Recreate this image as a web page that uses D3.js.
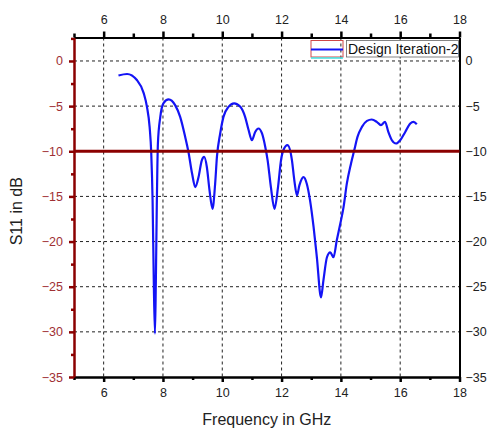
<!DOCTYPE html>
<html>
<head>
<meta charset="utf-8">
<script src="https://cdn.jsdelivr.net/npm/d3@7"></script>
<style>
    body { margin: 0; background: #fff; }
    svg text { font-family: Arial, "Liberation Sans", sans-serif; }
</style>
</head>
<body>
<div id="chart"></div>
<script>
// values
const freq = [6.50, 6.79, 7.12, 7.35, 7.46, 7.55, 7.605, 7.65, 7.69, 7.73, 7.76, 7.79, 7.81, 7.83,
    7.91, 8.02, 8.19, 8.41, 8.58, 8.75, 8.86, 8.98, 9.09, 9.20, 9.31, 9.39, 9.48, 9.57, 9.67,
    9.76, 9.82, 9.93, 10.04, 10.21, 10.40, 10.61, 10.77, 10.89, 11.00, 11.11, 11.22, 11.34,
    11.45, 11.53, 11.64, 11.76, 11.88, 11.98, 12.06, 12.20, 12.35, 12.43, 12.52, 12.60, 12.74,
    12.85, 12.96, 13.08, 13.19, 13.33, 13.41, 13.53, 13.64, 13.75, 13.86, 13.98, 14.09, 14.20,
    14.34, 14.45, 14.56, 14.71, 14.88, 15.04, 15.21, 15.35, 15.49, 15.60, 15.72, 15.86, 16.00,
    16.17, 16.34, 16.45, 16.56];
const s11 = [-1.61, -1.44, -2.11, -3.56, -5.08, -7.30, -10.22, -15.4, -24.3, -30.2, -24.5, -16.5, -12.0, -9.11,
    -6.19, -4.67, -4.26, -4.89, -6.19, -8.41, -10.08, -12.44, -13.97, -12.86, -11.0, -10.63, -11.74, -14.33, -16.37,
    -13.59, -10.63, -8.03, -6.19, -5.08, -4.70, -5.08, -6.19, -7.67, -8.78, -7.86, -7.48, -8.03,
    -9.52, -11.0, -13.97, -16.37, -13.97, -11.0, -9.89, -9.33, -11.0, -13.22, -14.89, -13.78, -12.86,
    -13.59, -15.44, -18.41, -21.74, -26.19, -24.33, -21.74, -21.19, -21.74, -19.89, -18.03, -16.19, -13.59,
    -11.37, -9.89, -8.41, -7.30, -6.63, -6.48, -6.74, -7.11, -6.74, -7.86, -8.78, -9.14, -8.78,
    -7.86, -6.92, -6.74, -7.0];

const xTicks = [6, 8, 10, 12, 14, 16, 18];
const xMinor = [5, 7, 9, 11, 13, 15, 17];
const yTicks = [0, -5, -10, -15, -20, -25, -30, -35];
const yMinor = [2.5, -2.5, -7.5, -12.5, -17.5, -22.5, -27.5, -32.5];
const limit = -10;
const seriesName = "Design Iteration-2";

const WIDTH = 487, HEIGHT = 431;
const LEFT = 74, RIGHT = 459.5, TOP = 37.5, BOTTOM = 377;
const AXIS_RED = "#8b0000";
const LABEL_RED = "#a03034";

const svg = d3.select("#chart").append("svg")
    .attr("width", WIDTH)
    .attr("height", HEIGHT);

const x = d3.scaleLinear().domain([5, 18]).range([LEFT, RIGHT]);
const y = d3.scaleLinear().domain([-35, 2.6]).range([BOTTOM, TOP]);

// dashed grid
svg.append("g").selectAll("line")
    .data(xTicks.filter(d => d < 18))
    .enter().append("line")
    .attr("x1", d => x(d)).attr("x2", d => x(d))
    .attr("y1", TOP).attr("y2", BOTTOM)
    .attr("stroke", "#222").attr("stroke-width", 1)
    .attr("stroke-dasharray", "3,3");

svg.append("g").selectAll("line")
    .data(yTicks.filter(d => d > -35))
    .enter().append("line")
    .attr("x1", LEFT).attr("x2", RIGHT)
    .attr("y1", d => y(d)).attr("y2", d => y(d))
    .attr("stroke", "#222").attr("stroke-width", 1)
    .attr("stroke-dasharray", "3,3");

function styleAxis(g, color, size) {
    g.attr("font-family", null).attr("font-size", null);
    g.selectAll("path.domain").attr("stroke", color).attr("stroke-width", 2);
    g.selectAll(".tick line").attr("stroke", color).attr("stroke-width", 2.5);
    g.selectAll("text").attr("fill", color === AXIS_RED ? LABEL_RED : "#222")
        .style("font-size", size + "px");
}

// minor ticks first so the axis lines sit on top
svg.append("g").attr("transform", `translate(0,${BOTTOM})`)
    .call(d3.axisBottom(x).tickValues(xMinor).tickSize(3).tickSizeOuter(0).tickFormat(""))
    .call(g => styleAxis(g, "#000", 12.5));
svg.append("g").attr("transform", `translate(0,${TOP})`)
    .call(d3.axisTop(x).tickValues(xMinor).tickSize(4).tickSizeOuter(0).tickFormat(""))
    .call(g => styleAxis(g, "#000", 12.5));
svg.append("g").attr("transform", `translate(${LEFT},0)`)
    .call(d3.axisLeft(y).tickValues(yMinor).tickSize(3).tickSizeOuter(0).tickFormat(""))
    .call(g => styleAxis(g, AXIS_RED, 12.5));

svg.append("g").attr("transform", `translate(0,${BOTTOM})`)
    .call(d3.axisBottom(x).tickValues(xTicks).tickSize(5).tickSizeOuter(0).tickPadding(6))
    .call(g => styleAxis(g, "#000", 12.5));
svg.append("g").attr("transform", `translate(0,${TOP})`)
    .call(d3.axisTop(x).tickValues(xTicks).tickSize(6).tickSizeOuter(0).tickPadding(8))
    .call(g => styleAxis(g, "#000", 12.5));
svg.append("g").attr("transform", `translate(${RIGHT},0)`)
    .call(d3.axisRight(y).tickValues(yTicks).tickSize(0).tickSizeOuter(0).tickPadding(6))
    .call(g => styleAxis(g, "#000", 12.5));
svg.append("g").attr("transform", `translate(${LEFT},0)`)
    .call(d3.axisLeft(y).tickValues(yTicks).tickSize(5).tickSizeOuter(0).tickPadding(6))
    .call(g => styleAxis(g, AXIS_RED, 12.5));

// S11 curve
const line = d3.line()
    .x((d, i) => x(freq[i]))
    .y(d => y(d))
    .curve(d3.curveMonotoneX);

svg.append("path")
    .datum(s11)
    .attr("d", line)
    .attr("fill", "none")
    .attr("stroke", "#1414f5")
    .attr("stroke-width", 2.2);

// -10 dB reference line
svg.append("line")
    .attr("x1", LEFT).attr("x2", RIGHT)
    .attr("y1", y(limit)).attr("y2", y(limit))
    .attr("stroke", AXIS_RED).attr("stroke-width", 3);

// legend
const legend = svg.append("g");
legend.append("rect")
    .attr("x", 311).attr("y", 40.5).attr("width", 32).attr("height", 16.5)
    .attr("fill", "none").attr("stroke", "#d04848").attr("stroke-width", 1);
legend.append("line")
    .attr("x1", 311).attr("x2", 343).attr("y1", 49.5).attr("y2", 49.5)
    .attr("stroke", "#1414f5").attr("stroke-width", 2);
legend.append("line")
    .attr("x1", 311).attr("x2", 343).attr("y1", 58).attr("y2", 58)
    .attr("stroke", "#40e0e0").attr("stroke-width", 1.5);
legend.append("rect")
    .attr("x", 346.5).attr("y", 40.5).attr("width", 112).attr("height", 16.5)
    .attr("fill", "#fff").attr("stroke", "#666").attr("stroke-width", 0.8);
legend.append("text")
    .attr("x", 348).attr("y", 53.5)
    .style("font-size", "14px").attr("fill", "#111")
    .text(seriesName);

// axis titles
svg.append("text")
    .attr("x", (LEFT + RIGHT) / 2).attr("y", 425)
    .attr("text-anchor", "middle")
    .style("font-size", "16px").attr("fill", "#222")
    .text("Frequency in GHz");

svg.append("text")
    .attr("transform", `translate(22,${(TOP + BOTTOM) / 2 + 4}) rotate(-90)`)
    .attr("text-anchor", "middle")
    .style("font-size", "16px").attr("fill", "#222")
    .text("S11 in dB");
</script>
</body>
</html>
